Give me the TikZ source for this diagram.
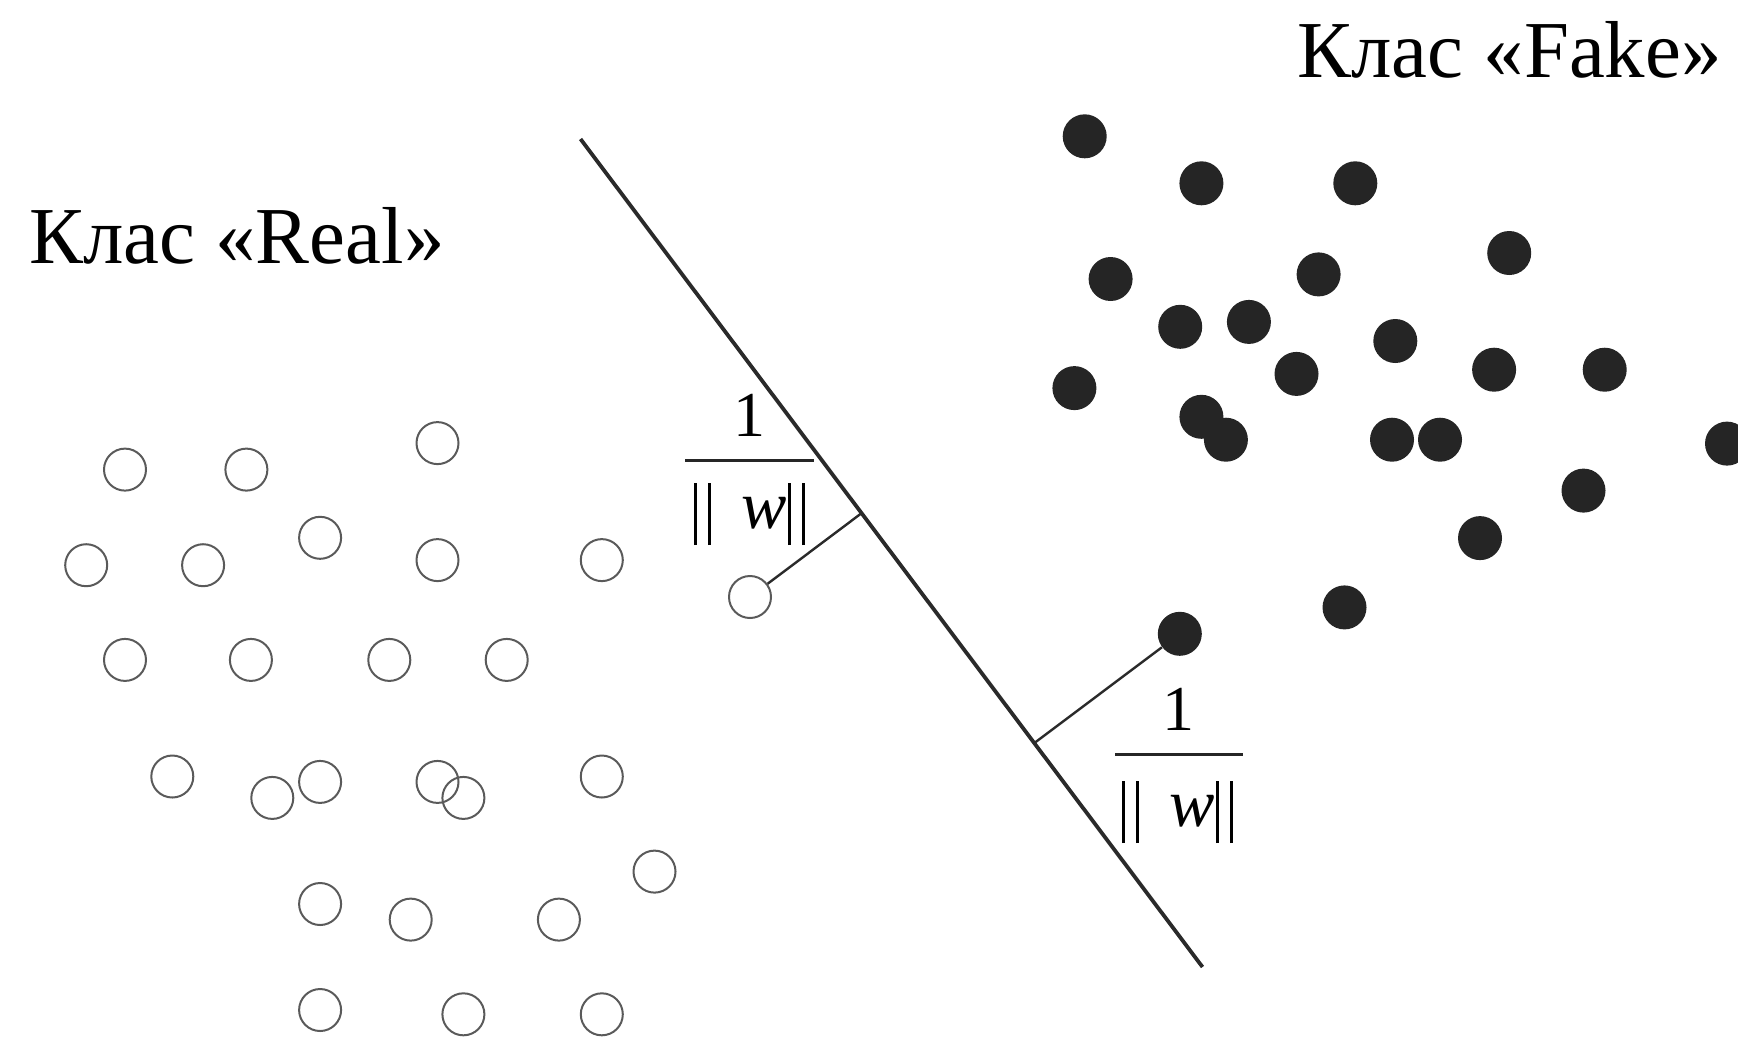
\documentclass[tikz,border=0pt]{standalone}
\usepackage{fontspec}
\setmainfont{Liberation Serif}
\usetikzlibrary{calc}
\definecolor{dotfill}{HTML}{252525}
\definecolor{ringgray}{HTML}{5A5A5A}
\definecolor{linegray}{HTML}{2A2A2A}
% double norm bars around w
\newcommand\normbar{\rule[-8.5pt]{1.3pt}{31pt}}
\newcommand\normw{\normbar\hspace{5.9pt}\normbar\hspace{15pt}{\fontsize{34}{38}\selectfont\textit{w}}\hspace{1pt}\normbar\hspace{5.7pt}\normbar}

\begin{document}
\begin{tikzpicture}[x=0.5pt,y=-0.5pt,
  real/.style={circle,draw=ringgray,line width=1pt,minimum size=21pt,inner sep=0pt},
  fake/.style={circle,fill=dotfill,minimum size=22pt,inner sep=0pt},
  sepline/.style={draw=linegray,line width=1.9pt},
  margin/.style={draw=linegray,line width=1.2pt},
  fracbar/.style={draw=black!85,line width=1.5pt},
  lbl/.style={font=\fontsize{40.4}{45}\selectfont,inner sep=0pt},
  fracnum/.style={font=\fontsize{32}{36}\selectfont,inner sep=0pt}]

\useasboundingbox (0,0) rectangle (1738,1040);

% class titles
\node[lbl,anchor=base west] (realtitle) at (29,263) {Клас «Real»};
\node[lbl,anchor=base east] (faketitle) at (1722,77) {Клас «Fake»};

% separating hyperplane
\coordinate (L1) at (580.5,139);
\coordinate (L2) at (1202.5,967);
\draw[sepline] (L1) -- (L2);

% class "Real"
\foreach \n/\px/\py in {
  1/125/469.6, 2/246.4/469.6, 3/437.5/443.1, 4/86.2/565.2, 5/203.1/565.2,
  6/320.1/537.8, 7/437.5/560.1, 8/601.8/560.1, 9/125/659.9, 10/250.9/659.9,
  11/389.3/659.9, 12/506.7/659.9, 13/172.3/776.5, 14/272.3/797.9, 15/320.1/781.9,
  16/437.5/781.9, 17/463.4/797.9, 18/601.8/776.5, 19/654.5/871.6, 20/320.1/904,
  21/410.7/919.6, 22/558.9/919.6, 23/320.1/1010, 24/463.4/1014.3, 25/601.8/1014.3}
  \node[real] (r\n) at (\px,\py) {};
\node[real] (rs) at (750,597) {};

% class "Fake"
\foreach \n/\px/\py in {
  1/1084.7/136.3, 2/1201.4/183.3, 3/1355.3/183.3, 4/1509.2/253, 5/1110.6/279,
  6/1318.6/274.4, 7/1180.2/326.8, 8/1248.9/321.9, 9/1395.3/341, 10/1296.5/373.9,
  11/1494.1/369.7, 12/1604.7/369.7, 13/1074.4/388.1, 14/1201.4/416.8, 15/1225.9/439.7,
  16/1392/439.7, 17/1440/439.7, 18/1727/443.6, 19/1583.5/490.6, 20/1480/538.1,
  21/1344.5/607.4}
  \node[fake] (f\n) at (\px,\py) {};
\node[fake] (fs) at (1179.8,633.8) {};

% margins from the support vectors to the hyperplane
\coordinate (p1) at ($(L1)!(rs)!(L2)$);
\coordinate (p2) at ($(L1)!(fs)!(L2)$);
\draw[margin] (rs) -- (p1);
\draw[margin] (fs) -- (p2);

% margin labels 1/||w||
\node[fracnum,anchor=base] (num1) at (749,436) {1};
\coordinate (bar1a) at (685,460);
\coordinate (bar1b) at (814,460);
\draw[fracbar] (bar1a) -- (bar1b);
\node[fracnum,anchor=base] (den1) at (749.5,528) {\normw};

\node[fracnum,anchor=base] (num2) at (1178,730) {1};
\coordinate (bar2a) at (1115,754.4);
\coordinate (bar2b) at (1243,754.4);
\draw[fracbar] (bar2a) -- (bar2b);
\node[fracnum,anchor=base] (den2) at (1177.5,826) {\normw};
\end{tikzpicture}
\end{document}
